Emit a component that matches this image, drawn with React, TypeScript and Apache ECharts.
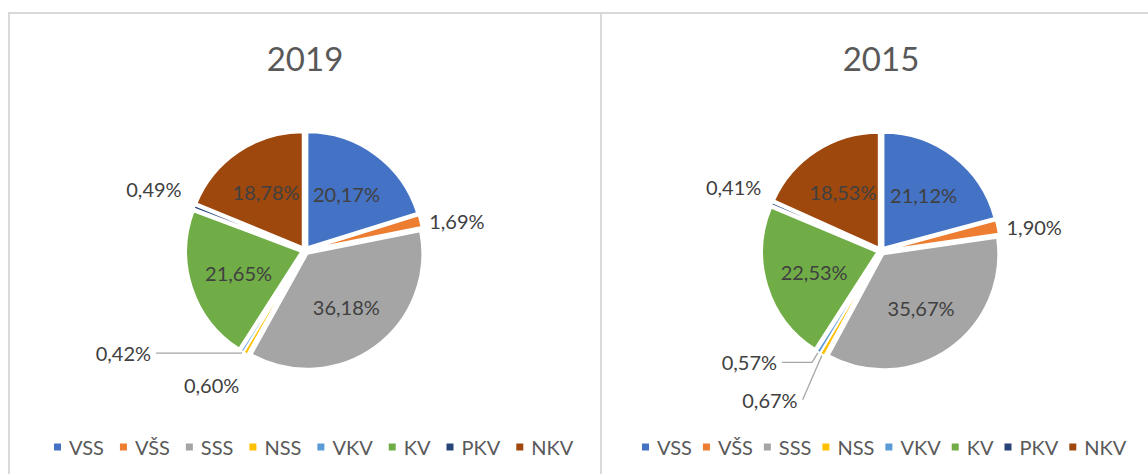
import React, { useEffect, useRef } from "react";
import * as echarts from "echarts";

const categories = ["VSS", "VŠS", "SSS", "NSS", "VKV", "KV", "PKV", "NKV"];
const years = ["2019", "2015"];
const values2019 = [20.17, 1.69, 36.18, 0.6, 0.42, 21.65, 0.49, 18.78];
const values2015 = [21.12, 1.9, 35.67, 0.67, 0.57, 22.53, 0.41, 18.53];
const colors = ["#4472C4", "#ED7D31", "#A5A5A5", "#FFC000", "#5B9BD5", "#70AD47", "#264478", "#9E480E"];

const FONT = "Lato";
const bigIdx = [0, 2, 5, 7];

// outside label style per small slice: [length, length2, showLine]
const outsideStyle2019: Record<number, [number, number, boolean]> = {
  1: [2, 2, false],
  3: [36, -17, false],
  4: [2, 85, true],
  6: [48, -37, false],
};
const outsideStyle2015: Record<number, [number, number, boolean]> = {
  1: [2, 2, false],
  3: [52, -6, true],
  4: [12, 30, true],
  6: [42, -33, false],
};

const fmt = (v: number) => v.toFixed(2).replace(".", ",") + "%";

function mainSeries(values: number[], center: number[], styles: Record<number, [number, number, boolean]>) {
  return {
    type: "pie",
    center,
    radius: 115,
    startAngle: 90,
    clockwise: true,
    selectedMode: "multiple",
    selectedOffset: 4,
    avoidLabelOverlap: false,
    emphasis: { disabled: true },
    itemStyle: { borderColor: "#ffffff", borderWidth: 2 },
    label: {
      show: true,
      position: "outside",
      fontFamily: FONT,
      fontSize: 20,
      color: "#404040",
      formatter: (p: any) => fmt(p.value),
    },
    labelLine: { show: true, lineStyle: { color: "#A6A6A6", width: 1.3 } },
    data: values.map((v, i) => {
      const st = styles[i];
      return {
        name: categories[i],
        value: v,
        selected: true,
        itemStyle: { color: colors[i] },
        label: st ? { show: true } : { show: false },
        labelLine: st ? { show: st[2], length: st[0], length2: st[1] } : { show: false },
      };
    }),
  };
}

function labelSeries(values: number[], center: number[]) {
  return {
    type: "pie",
    center,
    radius: 134,
    startAngle: 90,
    clockwise: true,
    silent: true,
    avoidLabelOverlap: false,
    itemStyle: { color: "rgba(0,0,0,0)" },
    label: {
      show: true,
      position: "inner",
      fontFamily: FONT,
      fontSize: 20,
      color: "#404040",
      formatter: (p: any) => fmt(p.value),
    },
    labelLine: { show: false },
    data: values.map((v, i) => ({
      name: categories[i],
      value: v,
      itemStyle: { color: "rgba(0,0,0,0)" },
      label: { show: bigIdx.includes(i) },
    })),
  };
}

export default function App() {
  const ref = useRef<HTMLDivElement>(null);
  useEffect(() => {
    if (!ref.current) return;
    const chart = echarts.init(ref.current, null, { renderer: "svg" });
    const legendBase = {
      data: categories,
      top: 432,
      icon: "rect",
      itemWidth: 7,
      itemHeight: 7,
      itemStyle: { borderWidth: 0 },
      textStyle: { fontFamily: FONT, fontSize: 20, color: "#595959", padding: [0, 0, 0, 3] },
    };
    chart.setOption({
      animation: false,
      backgroundColor: "#ffffff",
      legend: [
        { ...legendBase, left: 49, itemGap: 16 },
        { ...legendBase, left: 637, itemGap: 11 },
      ],
      graphic: [
        { type: "line", shape: { x1: 9, y1: 13, x2: 9, y2: 474 }, style: { stroke: "#D9D9D9", lineWidth: 2 } },
        { type: "line", shape: { x1: 8, y1: 13, x2: 1148, y2: 13 }, style: { stroke: "#D9D9D9", lineWidth: 2 } },
        { type: "line", shape: { x1: 601, y1: 13, x2: 601, y2: 474 }, style: { stroke: "#D9D9D9", lineWidth: 2 } },
        {
          type: "text",
          x: 305,
          y: 58,
          style: { text: years[0], fontFamily: FONT, fontSize: 33, fill: "#595959", textAlign: "center", textVerticalAlign: "middle" },
        },
        {
          type: "text",
          x: 881,
          y: 58,
          style: { text: years[1], fontFamily: FONT, fontSize: 33, fill: "#595959", textAlign: "center", textVerticalAlign: "middle" },
        },
      ],
      series: [
        mainSeries(values2019, [305, 250.5], outsideStyle2019),
        mainSeries(values2015, [881, 251], outsideStyle2015),
        labelSeries(values2019, [305, 250.5]),
        labelSeries(values2015, [881, 251]),
      ],
    });
    return () => chart.dispose();
  }, []);
  return (
    <div
      ref={ref}
      style={{ position: "fixed", left: 0, top: 0, width: 1148, height: 474, background: "#fff" }}
    />
  );
}
